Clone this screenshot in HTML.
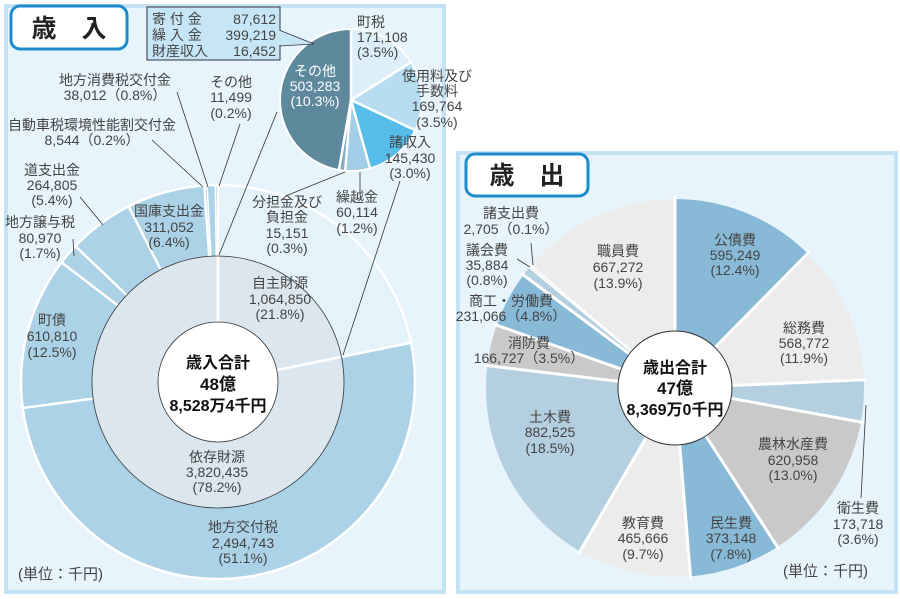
<!DOCTYPE html>
<html><head><meta charset="utf-8"><style>
html,body{margin:0;padding:0;background:#fff;}
svg{display:block;}
text{font-family:"Liberation Sans","Noto Sans CJK JP",sans-serif;fill:#444;font-size:14px;}
.c{text-anchor:middle;}
.b{font-weight:bold;fill:#111;font-size:16px;}
</style></head><body>
<svg width="900" height="599" viewBox="0 0 900 599" xmlns="http://www.w3.org/2000/svg">
<rect x="6" y="6" width="438" height="586" fill="#e7f4fc" stroke="#c3e2f4" stroke-width="4"/>
<rect x="458" y="153" width="438" height="439" fill="#e7f4fc" stroke="#c3e2f4" stroke-width="4"/>

<g transform="translate(218,382)">
  <circle r="161.5" fill="none" stroke="#acd2e8" stroke-width="71"/>
  <circle r="161.5" fill="none" stroke="#e4f2fa" stroke-width="71" pathLength="100" stroke-dasharray="21.8 78.2" transform="rotate(-90)"/>
  <circle r="197" fill="none" stroke="#fff" stroke-width="2.5"/>
  <g stroke="#fff" stroke-width="2.5">
    <line x1="0" y1="-126" x2="0" y2="-198" transform="rotate(0)"/>
    <line x1="0" y1="-126" x2="0" y2="-198" transform="rotate(78.5)"/>
    <line x1="0" y1="-126" x2="0" y2="-198" transform="rotate(262.4)"/>
    <line x1="0" y1="-126" x2="0" y2="-198" transform="rotate(307.4)"/>
    <line x1="0" y1="-126" x2="0" y2="-198" transform="rotate(313.6)"/>
    <line x1="0" y1="-126" x2="0" y2="-198" transform="rotate(333)"/>
    <line x1="0" y1="-126" x2="0" y2="-198" transform="rotate(356)"/>
  </g>
  <g stroke="#fff" stroke-width="1.5">
    <line x1="0" y1="-126" x2="0" y2="-198" transform="rotate(356.8)"/>
    <line x1="0" y1="-126" x2="0" y2="-198" transform="rotate(359.2)"/>
  </g>
  <circle r="93" fill="none" stroke="#dbe6ee" stroke-width="66"/>
  <g stroke="#fff" stroke-width="2.5">
    <line x1="0" y1="-60" x2="0" y2="-126" transform="rotate(0)"/>
    <line x1="0" y1="-60" x2="0" y2="-126" transform="rotate(78.5)"/>
  </g>
  <circle r="126" fill="none" stroke="#333" stroke-width="0.8"/>
  <circle r="60" fill="#fff" stroke="#333" stroke-width="0.8"/>
</g>

<g transform="translate(351,100)">
  <circle r="35.5" fill="none" stroke="#5e889c" stroke-width="71"/>
  <circle r="35.5" fill="none" stroke="#ddeff9" stroke-width="71" pathLength="100" stroke-dasharray="16.06 83.94" stroke-dashoffset="0" transform="rotate(-90)"/>
  <circle r="35.5" fill="none" stroke="#b8ddf1" stroke-width="71" pathLength="100" stroke-dasharray="15.94 84.06" stroke-dashoffset="-16.06" transform="rotate(-90)"/>
  <circle r="35.5" fill="none" stroke="#56bce9" stroke-width="71" pathLength="100" stroke-dasharray="13.66 86.34" stroke-dashoffset="-32" transform="rotate(-90)"/>
  <circle r="35.5" fill="none" stroke="#a2cde6" stroke-width="71" pathLength="100" stroke-dasharray="5.65 94.35" stroke-dashoffset="-45.66" transform="rotate(-90)"/>
  <circle r="35.5" fill="none" stroke="#80aac8" stroke-width="71" pathLength="100" stroke-dasharray="1.42 98.58" stroke-dashoffset="-51.31" transform="rotate(-90)"/>
  <g stroke="#fff" stroke-width="2.5">
    <line x1="0" y1="0" x2="0" y2="-72" transform="rotate(0)"/>
    <line x1="0" y1="0" x2="0" y2="-72" transform="rotate(57.8)"/>
    <line x1="0" y1="0" x2="0" y2="-72" transform="rotate(115.2)"/>
    <line x1="0" y1="0" x2="0" y2="-72" transform="rotate(164.4)"/>
    <line x1="0" y1="0" x2="0" y2="-72" transform="rotate(184.7)"/>
    <line x1="0" y1="0" x2="0" y2="-72" transform="rotate(189.8)"/>
  </g>
  <circle r="71" fill="none" stroke="#fff" stroke-width="2"/>
</g>

<polygon points="279,30 314,44 279,46" fill="#c6e5f6" stroke="#334" stroke-width="0.8"/>
<rect x="147" y="7" width="133" height="53" fill="#c6e5f6" stroke="#334" stroke-width="1"/>
<rect x="278" y="31" width="3" height="14" fill="#c6e5f6"/>
<text x="152" y="24">寄 付 金</text><text x="276" y="24" text-anchor="end">87,612</text>
<text x="152" y="40">繰 入 金</text><text x="276" y="40" text-anchor="end">399,219</text>
<text x="152" y="56">財産収入</text><text x="276" y="56" text-anchor="end">16,452</text>

<g stroke="#333" stroke-width="0.8" fill="none">
  <line x1="277" y1="112" x2="219" y2="255"/>
  <line x1="400" y1="181" x2="343" y2="355"/>
  <line x1="177" y1="92" x2="208" y2="187"/>
  <line x1="240" y1="124" x2="219" y2="186"/>
  <line x1="152" y1="140" x2="203" y2="187"/>
  <line x1="80" y1="197" x2="103" y2="225"/>
  <line x1="73" y1="239" x2="74" y2="256"/>
  <line x1="288" y1="195" x2="345" y2="172"/>
  <line x1="360" y1="190" x2="360" y2="172"/>
</g>

<rect x="11" y="6" width="116" height="43" rx="9" fill="#fff" stroke="#1d8ccc" stroke-width="3"/>
<text x="69" y="37" class="c" style="font-size:25px;font-weight:bold;fill:#222">歳　入</text>

<text x="357" y="27">町税</text><text x="357" y="42">171,108</text><text x="357" y="57">(3.5%)</text>
<text x="437" y="81" class="c">使用料及び</text><text x="437" y="96" class="c">手数料</text><text x="437" y="111" class="c">169,764</text><text x="437" y="127" class="c">(3.5%)</text>
<text x="410" y="147" class="c">諸収入</text><text x="410" y="163" class="c">145,430</text><text x="410" y="178" class="c">(3.0%)</text>
<text x="357" y="202" class="c">繰越金</text><text x="357" y="217" class="c">60,114</text><text x="357" y="233" class="c">(1.2%)</text>
<text x="287" y="207" class="c">分担金及び</text><text x="287" y="222" class="c">負担金</text><text x="287" y="238" class="c">15,151</text><text x="287" y="253" class="c">(0.3%)</text>
<text x="315" y="76" class="c" style="fill:#fff">その他</text><text x="315" y="91" class="c" style="fill:#fff">503,283</text><text x="315" y="106" class="c" style="fill:#fff">(10.3%)</text>
<text x="231" y="87" class="c">その他</text><text x="231" y="102" class="c">11,499</text><text x="231" y="118" class="c">(0.2%)</text>
<text x="115" y="85" class="c">地方消費税交付金</text><text x="115" y="100" class="c">38,012（0.8%）</text>
<text x="92" y="130" class="c">自動車税環境性能割交付金</text><text x="92" y="145" class="c">8,544（0.2%）</text>
<text x="52" y="175" class="c">道支出金</text><text x="52" y="190" class="c">264,805</text><text x="52" y="205" class="c">(5.4%)</text>
<text x="40" y="227" class="c">地方譲与税</text><text x="40" y="243" class="c">80,970</text><text x="40" y="258" class="c">(1.7%)</text>
<text x="169" y="216" class="c">国庫支出金</text><text x="169" y="232" class="c">311,052</text><text x="169" y="247" class="c">(6.4%)</text>
<text x="52" y="325" class="c">町債</text><text x="52" y="341" class="c">610,810</text><text x="52" y="357" class="c">(12.5%)</text>
<text x="280" y="288" class="c">自主財源</text><text x="280" y="304" class="c">1,064,850</text><text x="280" y="319" class="c">(21.8%)</text>
<text x="217" y="462" class="c">依存財源</text><text x="217" y="477" class="c">3,820,435</text><text x="217" y="492" class="c">(78.2%)</text>
<text x="243" y="532" class="c">地方交付税</text><text x="243" y="548" class="c">2,494,743</text><text x="243" y="563" class="c">(51.1%)</text>
<text x="18" y="579" style="font-size:15px">(単位：千円)</text>
<text x="218" y="368" class="c b">歳入合計</text><text x="218" y="390" class="c b" style="font-size:17px">48億</text><text x="218" y="411" class="c b">8,528万4千円</text>

<g transform="translate(675,388)">
  <circle r="95" fill="none" stroke="#ececec" stroke-width="190"/>
  <g fill="none" stroke-width="190" transform="rotate(-90)">
    <circle r="95" stroke="#88b9d6" pathLength="100" stroke-dasharray="12.4 87.6" stroke-dashoffset="0"/>
    <circle r="95" stroke="#b3cfe0" pathLength="100" stroke-dasharray="3.6 96.4" stroke-dashoffset="-24.3"/>
    <circle r="95" stroke="#c9c9c9" pathLength="100" stroke-dasharray="13 87" stroke-dashoffset="-27.9"/>
    <circle r="95" stroke="#88b9d6" pathLength="100" stroke-dasharray="7.8 92.2" stroke-dashoffset="-40.9"/>
    <circle r="95" stroke="#b3cfe0" pathLength="100" stroke-dasharray="18.5 81.5" stroke-dashoffset="-58.4"/>
    <circle r="95" stroke="#c9c9c9" pathLength="100" stroke-dasharray="3.5 96.5" stroke-dashoffset="-76.9"/>
    <circle r="95" stroke="#88b9d6" pathLength="100" stroke-dasharray="4.8 95.2" stroke-dashoffset="-80.4"/>
    <circle r="95" stroke="#b3cfe0" pathLength="100" stroke-dasharray="0.9 99.1" stroke-dashoffset="-85.2"/>
  </g>
  <circle r="190" fill="none" stroke="#e7f4fc" stroke-width="2"/>
  <g stroke="#fff" stroke-width="3">
    <line x1="0" y1="0" x2="0" y2="-192" transform="rotate(0)"/>
    <line x1="0" y1="0" x2="0" y2="-192" transform="rotate(44.6)"/>
    <line x1="0" y1="0" x2="0" y2="-192" transform="rotate(87.5)"/>
    <line x1="0" y1="0" x2="0" y2="-192" transform="rotate(100.4)"/>
    <line x1="0" y1="0" x2="0" y2="-192" transform="rotate(147.2)"/>
    <line x1="0" y1="0" x2="0" y2="-192" transform="rotate(175.3)"/>
    <line x1="0" y1="0" x2="0" y2="-192" transform="rotate(210.2)"/>
    <line x1="0" y1="0" x2="0" y2="-192" transform="rotate(276.8)"/>
    <line x1="0" y1="0" x2="0" y2="-192" transform="rotate(289.4)"/>
    <line x1="0" y1="0" x2="0" y2="-192" transform="rotate(306.7)"/>
  </g>
  <g stroke="#fff" stroke-width="1.5">
    <line x1="0" y1="0" x2="0" y2="-192" transform="rotate(309.6)"/>
    <line x1="0" y1="0" x2="0" y2="-192" transform="rotate(310.4)"/>
  </g>
  <circle r="57" fill="#fff" stroke="#333" stroke-width="1"/>
</g>
<g stroke="#333" stroke-width="0.8">
  <line x1="531" y1="243" x2="533" y2="265"/>
  <line x1="517" y1="259" x2="530" y2="267"/>
  <line x1="866" y1="405" x2="861" y2="498"/>
</g>

<rect x="466" y="154" width="122" height="42" rx="9" fill="#fff" stroke="#1d8ccc" stroke-width="3"/>
<text x="527" y="184" class="c" style="font-size:25px;font-weight:bold;fill:#222">歳　出</text>

<text x="511" y="218" class="c">諸支出費</text><text x="511" y="234" class="c">2,705（0.1%）</text>
<text x="487" y="255" class="c">議会費</text><text x="487" y="270" class="c">35,884</text><text x="487" y="285" class="c">(0.8%)</text>
<text x="511" y="306" class="c">商工・労働費</text><text x="511" y="321" class="c">231,066（4.8%）</text>
<text x="529" y="348" class="c">消防費</text><text x="529" y="363" class="c">166,727（3.5%）</text>
<text x="618" y="256" class="c">職員費</text><text x="618" y="272" class="c">667,272</text><text x="618" y="288" class="c">(13.9%)</text>
<text x="735" y="245" class="c">公債費</text><text x="735" y="260" class="c">595,249</text><text x="735" y="275" class="c">(12.4%)</text>
<text x="804" y="333" class="c">総務費</text><text x="804" y="348" class="c">568,772</text><text x="804" y="363" class="c">(11.9%)</text>
<text x="793" y="449" class="c">農林水産費</text><text x="793" y="465" class="c">620,958</text><text x="793" y="480" class="c">(13.0%)</text>
<text x="858" y="513" class="c">衛生費</text><text x="858" y="529" class="c">173,718</text><text x="858" y="544" class="c">(3.6%)</text>
<text x="731" y="528" class="c">民生費</text><text x="731" y="543" class="c">373,148</text><text x="731" y="559" class="c">(7.8%)</text>
<text x="643" y="528" class="c">教育費</text><text x="643" y="543" class="c">465,666</text><text x="643" y="559" class="c">(9.7%)</text>
<text x="550" y="422" class="c">土木費</text><text x="550" y="437" class="c">882,525</text><text x="550" y="453" class="c">(18.5%)</text>
<text x="783" y="576" style="font-size:15px">(単位：千円)</text>
<text x="675" y="373" class="c b">歳出合計</text><text x="675" y="394" class="c b" style="font-size:17px">47億</text><text x="675" y="415" class="c b">8,369万0千円</text>
</svg>
</body></html>
